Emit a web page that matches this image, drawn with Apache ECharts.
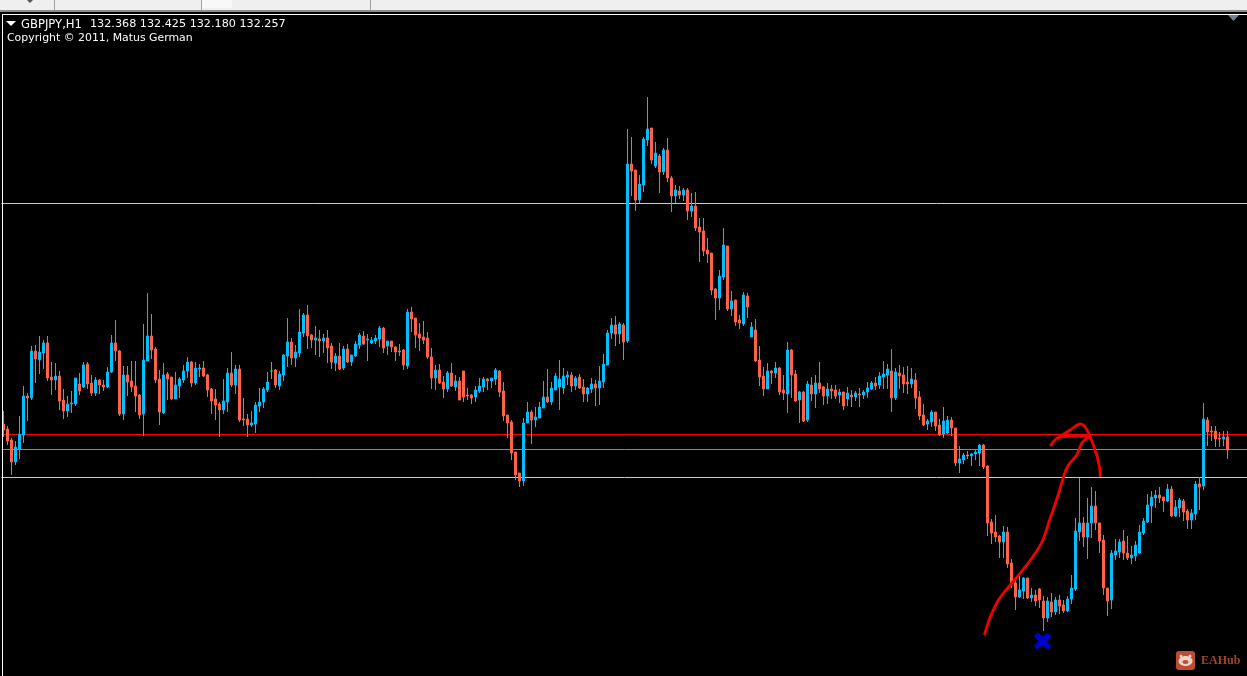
<!DOCTYPE html>
<html>
<head>
<meta charset="utf-8">
<title>GBPJPY,H1</title>
<script src="https://cdn.jsdelivr.net/npm/echarts@6/dist/echarts.min.js"></script>
<style>
  html, body { margin: 0; padding: 0; background: #000; overflow: hidden; }
  #chart { width: 1247px; height: 676px; }
</style>
</head>
<body>
<div id="chart"></div>
<script>
// H1 bars
const opens = [
  132.50,132.45,132.34,132.12,132.25,132.39,132.78,132.76,133.23,133.14,
  133.21,133.31,132.97,132.94,132.98,132.74,132.63,132.70,132.70,132.90,
  132.87,133.10,132.91,132.81,132.94,132.89,132.87,133.02,133.31,133.23,
  132.60,132.99,132.93,132.88,132.79,132.60,133.13,133.38,133.25,132.95,
  132.61,133.00,132.97,132.75,132.88,132.94,133.03,133.12,132.91,133.05,
  133.06,132.99,132.85,132.75,132.70,132.64,132.72,133.01,132.89,133.05,
  132.55,132.55,132.49,132.50,132.68,132.72,132.84,133.03,133.04,132.88,
  132.99,133.18,133.32,133.16,133.21,133.41,133.59,133.39,133.34,133.35,
  133.33,133.36,133.28,133.11,133.18,133.06,133.25,133.12,133.18,133.29,
  133.38,133.34,133.31,133.33,133.35,133.46,133.28,133.33,133.27,133.22,
  133.24,133.08,133.62,133.56,133.40,133.37,133.36,133.17,132.96,133.04,
  132.92,132.85,133.01,132.87,132.93,133.03,132.79,132.79,132.77,132.83,
  132.87,132.95,132.93,132.95,133.03,132.83,132.59,132.52,132.22,132.01,
  131.93,132.51,132.62,132.54,132.56,132.66,132.77,132.72,132.84,132.87,
  132.86,132.97,132.99,132.88,132.97,132.87,132.80,132.85,132.90,132.86,
  132.92,133.09,133.41,133.49,133.40,133.49,133.33,135.10,135.04,134.74,
  134.89,135.34,135.46,135.08,135.18,135.02,135.24,134.96,134.78,134.83,
  134.79,134.84,134.63,134.68,134.47,134.43,134.24,134.21,133.85,133.76,
  133.97,134.28,133.65,133.74,133.54,133.50,133.78,133.37,133.44,133.14,
  132.98,132.85,133.03,133.01,133.06,132.84,132.80,133.24,133.00,132.74,
  132.82,132.54,132.89,132.80,132.91,132.87,132.78,132.85,132.84,132.79,
  132.82,132.75,132.79,132.77,132.80,132.79,132.82,132.85,132.91,132.89,
  132.97,132.99,133.03,132.76,133.01,132.99,132.92,132.90,132.94,132.77,
  132.59,132.50,132.52,132.62,132.49,132.40,132.41,132.54,132.46,132.11,
  132.14,132.19,132.18,132.20,132.21,132.29,132.08,131.52,131.42,131.38,
  131.32,131.42,131.11,130.91,130.77,130.83,130.96,130.76,130.79,130.85,
  130.73,130.56,130.72,130.62,130.74,130.69,130.63,130.75,130.85,131.42,
  131.51,131.37,131.51,131.68,131.51,131.34,130.86,130.74,131.19,131.22,
  131.33,131.21,131.16,131.18,131.21,131.41,131.52,131.68,131.76,131.79,
  131.77,131.73,131.85,131.58,131.66,131.73,131.63,131.54,131.60,131.90,
  131.88,132.54,132.43,132.43,132.36,132.35,132.37
];
const closes = [
  132.44,132.33,132.12,132.27,132.40,132.78,132.76,133.23,133.15,133.22,
  133.31,132.96,132.94,132.98,132.73,132.63,132.70,132.71,132.96,132.83,
  133.09,132.90,132.81,132.94,132.89,132.87,133.02,133.31,133.23,132.60,
  132.99,132.92,132.87,132.78,132.59,133.14,133.38,133.24,132.94,132.62,
  132.99,132.95,132.75,132.89,132.95,133.03,133.12,132.91,133.06,133.06,
  132.98,132.84,132.73,132.69,132.64,132.73,133.01,132.89,133.05,132.54,
  132.54,132.49,132.51,132.69,132.72,132.85,132.92,133.03,132.89,133.00,
  133.19,133.32,133.16,133.22,133.42,133.59,133.38,133.34,133.36,133.33,
  133.36,133.26,133.12,133.18,133.05,133.25,133.12,133.19,133.30,133.39,
  133.30,133.35,133.34,133.36,133.46,133.26,133.33,133.27,133.22,133.23,
  133.09,133.62,133.55,133.39,133.36,133.34,133.17,132.96,133.04,132.91,
  132.85,133.01,132.88,132.93,132.74,132.77,132.78,132.76,132.84,132.88,
  132.95,132.93,132.96,133.04,132.82,132.58,132.51,132.21,131.99,131.93,
  132.51,132.62,132.54,132.57,132.67,132.77,132.72,132.86,132.98,132.95,
  132.98,132.99,132.88,132.96,132.86,132.80,132.86,132.90,132.86,132.93,
  133.10,133.41,133.49,133.40,133.50,133.32,135.10,135.03,134.74,134.90,
  135.35,135.45,135.14,135.21,135.02,135.24,134.96,134.78,134.84,134.79,
  134.84,134.63,134.68,134.46,134.42,134.23,134.20,133.84,133.76,133.98,
  134.29,133.65,133.73,133.52,133.51,133.79,133.67,133.47,133.13,132.97,
  132.85,133.03,133.01,133.06,132.82,132.81,133.24,132.99,132.73,132.82,
  132.53,132.90,132.80,132.91,132.85,132.78,132.85,132.83,132.78,132.82,
  132.68,132.81,132.77,132.81,132.79,132.82,132.86,132.91,132.88,132.98,
  133.00,133.05,132.76,133.02,132.98,132.90,132.90,132.95,132.76,132.58,
  132.49,132.53,132.62,132.48,132.39,132.53,132.54,132.46,132.11,132.15,
  132.19,132.18,132.20,132.22,132.29,132.07,131.51,131.41,131.37,131.32,
  131.42,131.10,130.91,130.77,130.84,130.96,130.76,130.79,130.73,130.74,
  130.56,130.73,130.62,130.74,130.68,130.63,130.75,130.86,131.43,131.51,
  131.37,131.51,131.68,131.51,131.33,130.86,130.73,131.21,131.23,131.32,
  131.21,131.16,131.19,131.29,131.42,131.53,131.69,131.77,131.79,131.76,
  131.73,131.85,131.58,131.67,131.74,131.62,131.54,131.61,131.90,131.87,
  132.55,132.42,132.42,132.35,132.35,132.37,132.24
];
const highs = [
  132.63,132.48,132.36,132.33,132.58,132.88,132.81,133.28,133.29,133.38,
  133.34,133.38,133.12,133.11,133.03,132.85,132.78,132.83,132.96,133.01,
  133.12,133.12,132.99,132.97,132.95,132.94,133.07,133.39,133.54,133.24,
  133.08,133.08,133.13,133.13,132.80,133.50,133.81,133.60,133.27,133.04,
  133.11,133.02,132.97,133.02,132.97,133.09,133.17,133.13,133.12,133.10,
  133.13,133.00,132.86,132.85,132.72,132.95,133.06,133.22,133.09,133.09,
  132.76,132.60,132.63,132.72,132.86,132.87,133.02,133.12,133.05,133.03,
  133.20,133.56,133.36,133.29,133.65,133.61,133.69,133.40,133.48,133.44,
  133.40,133.44,133.31,133.21,133.31,133.28,133.30,133.19,133.33,133.41,
  133.43,133.40,133.37,133.39,133.48,133.47,133.33,133.33,133.28,133.30,
  133.25,133.65,133.67,133.56,133.51,133.53,133.42,133.26,133.09,133.10,
  132.98,133.03,133.11,132.99,132.97,133.03,132.86,132.80,132.88,132.96,
  132.97,132.96,132.96,133.06,133.04,132.92,132.59,132.54,132.22,132.01,
  132.56,132.72,132.64,132.67,132.72,132.93,133.05,132.92,133.01,133.14,
  133.06,133.03,133.02,132.98,133.00,132.95,132.87,132.96,132.94,133.08,
  133.20,133.44,133.56,133.58,133.52,133.51,135.45,135.37,135.04,134.99,
  135.37,135.77,135.46,135.32,135.20,135.26,135.36,134.98,134.89,134.88,
  134.86,134.86,134.81,134.82,134.56,134.56,134.36,134.21,133.86,134.04,
  134.46,134.28,133.83,133.74,133.59,133.82,133.81,133.52,133.55,133.28,
  133.07,133.11,133.04,133.12,133.07,132.99,133.32,133.25,133.04,132.83,
  132.83,132.93,132.97,132.99,133.12,132.88,132.91,132.89,132.89,132.85,
  132.82,132.87,132.84,132.83,132.86,132.84,132.92,132.93,132.97,133.02,
  133.13,133.10,133.25,133.06,133.09,133.07,133.08,133.06,133.01,132.83,
  132.70,132.55,132.64,132.62,132.55,132.67,132.58,132.57,132.46,132.28,
  132.21,132.23,132.21,132.24,132.30,132.30,132.09,131.55,131.59,131.39,
  131.48,131.47,131.15,130.94,130.98,130.97,130.96,130.86,130.84,130.86,
  130.78,130.77,130.81,130.77,130.79,130.74,130.78,130.99,131.56,131.96,
  131.57,131.76,131.87,131.83,131.51,131.39,130.86,131.24,131.35,131.35,
  131.44,131.38,131.28,131.33,131.49,131.56,131.80,131.83,131.84,131.87,
  131.77,131.90,131.88,131.74,131.76,131.75,131.65,131.65,131.93,131.97,
  132.71,132.57,132.48,132.48,132.42,132.43,132.43
];
const lows = [
  132.37,132.29,131.99,132.09,132.15,132.31,132.53,132.74,132.91,133.00,
  133.05,132.93,132.79,132.84,132.64,132.55,132.57,132.61,132.68,132.79,
  132.86,132.85,132.78,132.78,132.80,132.83,132.86,133.01,133.13,132.58,
  132.54,132.78,132.82,132.62,132.55,132.38,133.13,133.15,132.91,132.49,
  132.60,132.74,132.74,132.75,132.76,132.91,132.96,132.87,132.89,132.97,
  132.97,132.77,132.60,132.54,132.37,132.60,132.62,132.87,132.80,132.52,
  132.48,132.37,132.47,132.41,132.62,132.66,132.82,132.95,132.86,132.84,
  132.93,133.07,133.09,133.07,133.17,133.37,133.25,133.26,133.19,133.17,
  133.21,133.11,133.05,133.03,133.04,133.04,133.11,133.08,133.17,133.25,
  133.29,133.13,133.30,133.30,133.27,133.21,133.19,133.22,133.13,133.18,
  133.04,133.05,133.42,133.26,133.23,133.30,133.15,132.85,132.84,132.90,
  132.76,132.82,132.87,132.83,132.74,132.72,132.74,132.70,132.72,132.81,
  132.82,132.84,132.86,132.89,132.77,132.53,132.36,132.14,131.94,131.87,
  131.88,132.51,132.30,132.47,132.56,132.66,132.71,132.69,132.84,132.64,
  132.80,132.89,132.82,132.84,132.85,132.72,132.72,132.81,132.68,132.69,
  132.86,133.09,133.35,133.28,133.30,133.14,133.31,134.78,134.63,134.71,
  134.82,135.28,135.10,135.06,134.81,134.99,134.92,134.62,134.71,134.75,
  134.73,134.54,134.57,134.43,134.12,134.18,134.11,133.79,133.54,133.64,
  133.94,133.63,133.58,133.48,133.45,133.48,133.56,133.37,133.12,132.88,
  132.78,132.85,132.90,132.96,132.79,132.74,132.61,132.76,132.72,132.51,
  132.52,132.52,132.73,132.66,132.81,132.69,132.70,132.75,132.75,132.71,
  132.64,132.68,132.67,132.73,132.67,132.75,132.76,132.84,132.84,132.85,
  132.85,132.85,132.62,132.74,132.85,132.81,132.80,132.86,132.65,132.54,
  132.48,132.44,132.47,132.43,132.38,132.36,132.40,132.38,132.08,132.01,
  132.10,132.15,132.08,132.14,132.08,132.05,131.38,131.30,131.32,131.16,
  131.16,131.06,130.86,130.64,130.76,130.75,130.75,130.72,130.68,130.66,
  130.43,130.52,130.57,130.59,130.60,130.61,130.62,130.70,130.83,131.33,
  131.27,131.15,131.36,131.44,131.21,130.79,130.58,130.65,131.14,131.16,
  131.14,131.14,131.10,131.13,131.20,131.39,131.51,131.51,131.66,131.71,
  131.62,131.72,131.57,131.57,131.57,131.53,131.45,131.45,131.54,131.64,
  131.84,132.28,132.33,132.27,132.27,132.28,132.15
];

// horizontal levels
const goldLevels = [134.71, 131.97];
const grayLevel = 132.245;
const redLevel = 132.395;

// hand drawn red strokes, bar number / price
const rise_bars = [245.2,246.7,248.75,251.7,254.2,257.1,259.6,261.7,263.5,265.4,266.25,268.3,269.6,271.25,266.7,263.5,261.7];
const rise_prices = [130.39,130.57,130.74,130.89,131.01,131.16,131.32,131.56,131.77,132.02,132.09,132.19,132.31,132.37,132.38,132.36,132.28];
const hook_bars = [263.5,266.7,269.2,270.4,271.7,273.3,274,274.2];
const hook_prices = [132.36,132.44,132.50,132.47,132.37,132.19,132.07,131.97];

// blue cross under the low
const cross_bar = 259.8;
const cross_price = 130.33;

const extraBars = 5; // empty space right of the last bar
const categories = opens.map((_, i) => i);
for (let i = 0; i < extraBars; i++) categories.push(opens.length + i);

const candles = opens.map((o, i) => [o, closes[i], lows[i], highs[i]]);

const chart = echarts.init(document.getElementById('chart'));

const option = {
  animation: false,
  backgroundColor: '#000',
  grid: { left: 1.5, top: 0, width: categories.length * 4, height: 676, outerBoundsMode: 'none' },
  xAxis: [
    { type: 'category', data: categories, show: false },
    { type: 'value', show: false, min: -0.5, max: categories.length - 0.5 },
  ],
  yAxis: { type: 'value', show: false, min: 129.98, max: 136.74, splitLine: { show: false } },
  series: [
    {
      type: 'candlestick',
      data: candles,
      barWidth: 2,
      z: 3,
      itemStyle: {
        color: '#00bfff',
        color0: '#ff6347',
        borderColor: '#00bfff',
        borderColor0: '#ff6347',
        borderColorDoji: '#00ff00',
        borderWidth: 1,
      },
      markLine: {
        silent: true,
        symbol: 'none',
        z: 1,
        label: { show: false },
        data: [
          { yAxis: goldLevels[0], lineStyle: { color: '#ffd700', width: 1, type: 'solid' } },
          { yAxis: goldLevels[1], lineStyle: { color: '#ffd700', width: 1, type: 'solid' } },
          { yAxis: grayLevel, lineStyle: { color: '#808a96', width: 1, type: 'solid' } },
          { yAxis: redLevel, lineStyle: { color: '#ff0000', width: 1, type: 'solid' } },
        ],
      },
    },
    {
      type: 'line',
      xAxisIndex: 1,
      z: 5,
      smooth: 0.35,
      showSymbol: false,
      lineStyle: { color: '#f00000', width: 2.8 },
      data: rise_bars.map((b, i) => [b, rise_prices[i]]),
    },
    {
      type: 'line',
      xAxisIndex: 1,
      z: 5,
      smooth: 0.35,
      showSymbol: false,
      lineStyle: { color: '#f00000', width: 2.8 },
      data: hook_bars.map((b, i) => [b, hook_prices[i]]),
    },
    {
      type: 'scatter',
      xAxisIndex: 1,
      z: 6,
      symbol: 'path://M22 0 L52 24 L80 2 L100 24 L72 50 L98 82 L76 100 L48 74 L18 100 L0 80 L26 52 L2 22 Z',
      symbolSize: [18, 17],
      itemStyle: { color: '#0000ff' },
      data: [[cross_bar, cross_price]],
    },
  ],
  graphic: [
    // terminal toolbar and frame
    { type: 'rect', z: 100, shape: { x: 0, y: 0, width: 1247, height: 10 }, style: { fill: '#efefef' } },
    { type: 'rect', z: 100, shape: { x: 0, y: 10, width: 1247, height: 2 }, style: { fill: '#8c8c8c' } },
    { type: 'rect', z: 100, shape: { x: 0, y: 12, width: 1247, height: 2 }, style: { fill: '#000' } },
    { type: 'rect', z: 100, shape: { x: 2, y: 14, width: 1245, height: 1 }, style: { fill: '#fff' } },
    { type: 'rect', z: 100, shape: { x: 2, y: 14, width: 1, height: 662 }, style: { fill: '#fff' } },
    { type: 'rect', z: 101, shape: { x: 54, y: 0, width: 1, height: 10 }, style: { fill: '#a0a0a0' } },
    { type: 'rect', z: 101, shape: { x: 201, y: 0, width: 1, height: 10 }, style: { fill: '#a0a0a0' } },
    { type: 'rect', z: 101, shape: { x: 202, y: 0, width: 30, height: 8 }, style: { fill: '#f8f8f8' } },
    { type: 'rect', z: 101, shape: { x: 370, y: 0, width: 1, height: 10 }, style: { fill: '#a0a0a0' } },
    { type: 'polygon', z: 101, shape: { points: [[27, 0], [33, 0], [30, 3]] }, style: { fill: '#555' } },
    { type: 'polygon', z: 101, shape: { points: [[6, 21], [16, 21], [11, 26]] }, style: { fill: '#fff' } },
    { type: 'polygon', z: 101, shape: { points: [[1228, 15], [1239, 15], [1233.5, 21]] }, style: { fill: '#708090' } },
    // header text
    {
      type: 'text', z: 102, x: 21, y: 19,
      style: { text: 'GBPJPY,H1', fill: '#fff', font: '11.6px "DejaVu Sans"' },
    },
    {
      type: 'text', z: 102, x: 90, y: 19,
      style: { text: '132.368 132.425 132.180 132.257', fill: '#fff', font: '11.2px "DejaVu Sans"' },
    },
    {
      type: 'text', z: 102, x: 7, y: 33,
      style: { text: 'Copyright © 2011, Matus German', fill: '#fff', font: '10.9px "DejaVu Sans"' },
    },
    // EAHub watermark
    { type: 'rect', z: 102, shape: { x: 1176, y: 651, width: 19, height: 19, r: 3 }, style: { fill: '#bf4b32' } },
    { type: 'circle', z: 103, shape: { cx: 1181, cy: 656, r: 1.5 }, style: { fill: '#e8d4c8' } },
    { type: 'circle', z: 103, shape: { cx: 1190, cy: 656, r: 1.5 }, style: { fill: '#e8d4c8' } },
    { type: 'ellipse', z: 103, shape: { cx: 1185.5, cy: 661, rx: 7, ry: 5 }, style: { fill: '#e8d4c8' } },
    { type: 'ellipse', z: 104, shape: { cx: 1185.5, cy: 662, rx: 3, ry: 2 }, style: { fill: '#bf4b32' } },
    {
      type: 'text', z: 102, x: 1201, y: 655,
      style: { text: 'EAHub', fill: '#a3432e', font: 'bold 12px "Liberation Serif"' },
    },
  ],
};

chart.setOption(option);
</script>
</body>
</html>
